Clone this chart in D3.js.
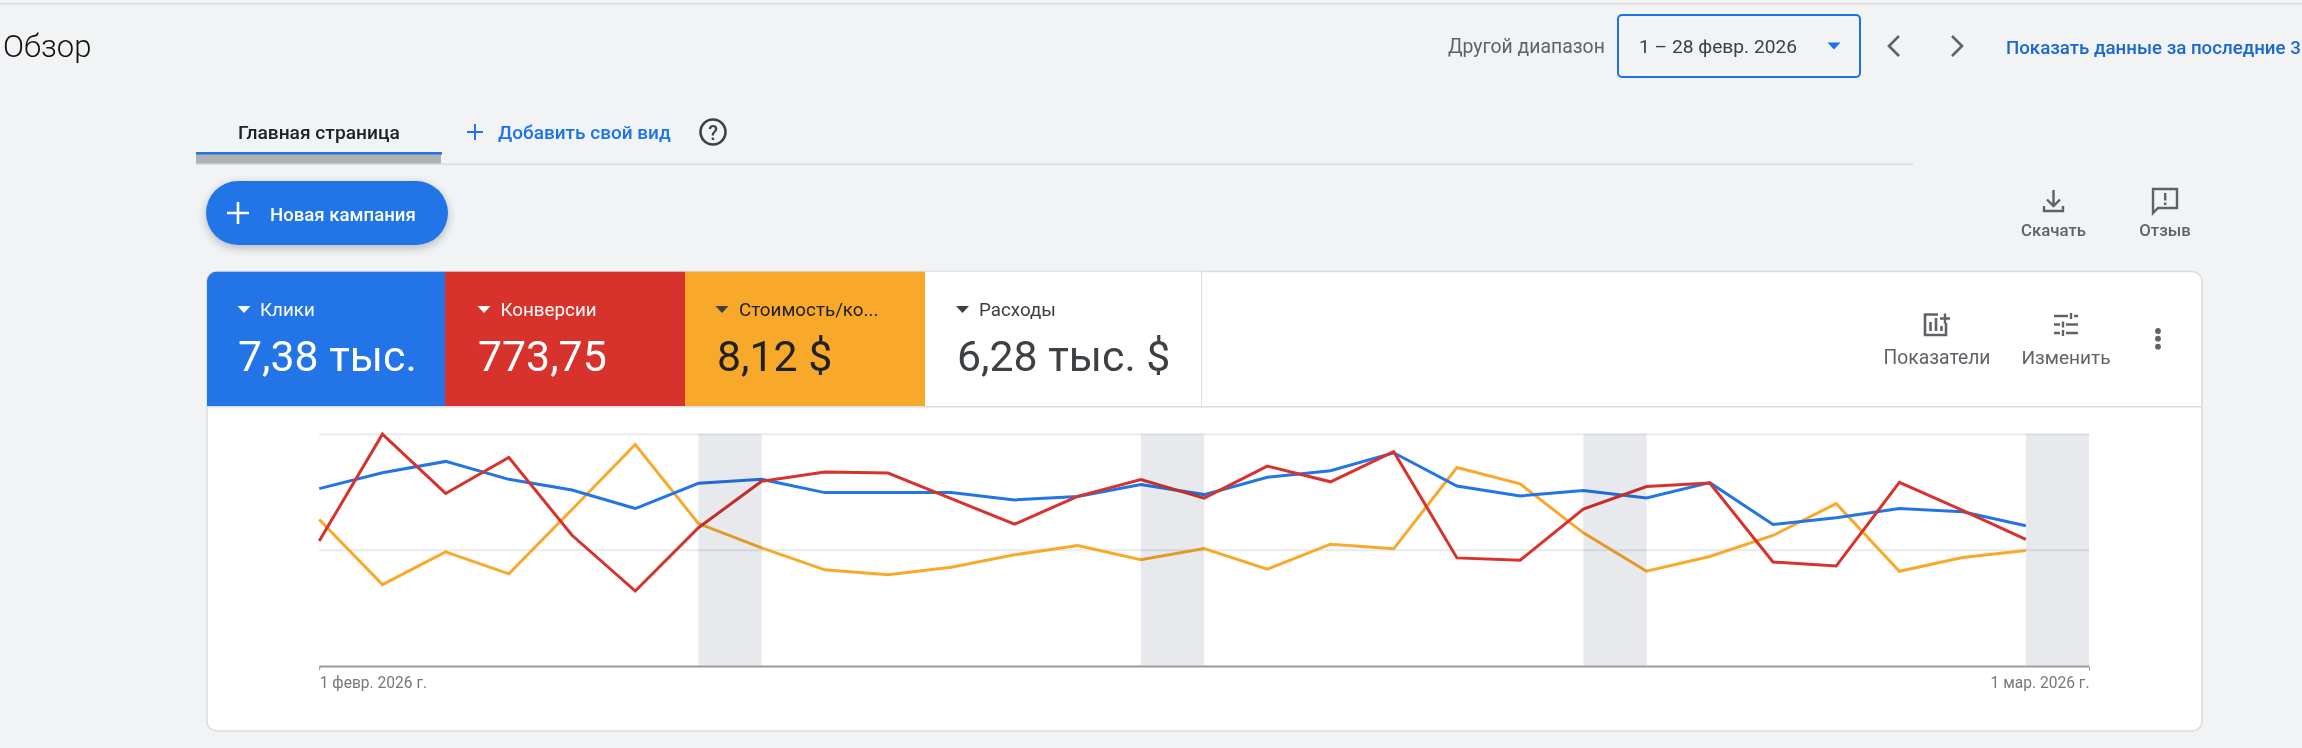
<!DOCTYPE html>
<html lang="ru">
<head>
<meta charset="utf-8">
<title>Обзор</title>
<script src="https://cdn.jsdelivr.net/npm/d3@7"></script>
<style>
  html, body { margin: 0; padding: 0; background: #f1f3f5; overflow: hidden; }
  svg { display: block; font-family: Roboto, "Noto Sans", sans-serif; }
</style>
</head>
<body>
<svg id="page" width="2302" height="748"></svg>
<script>
// Daily values, 1-28 Feb 2026
const clicks = [268, 292, 309, 282, 266, 238, 276, 282, 262, 262, 262, 251, 256, 274,
  259, 285, 295, 322, 272, 257, 265, 254, 277, 214, 224, 238, 233, 212];
const conversions = [21.6, 40.0, 29.8, 36.0, 22.6, 13.0, 23.9, 31.9, 33.5, 33.3, 28.9, 24.5, 29.3, 32.2,
  29.0, 34.5, 31.8, 37.0, 18.7, 18.3, 27.1, 31.0, 31.6, 18.0, 17.3, 31.7, 26.9, 21.9];
const costPerConv = [9.49, 5.29, 7.40, 5.98, 10.14, 14.33, 9.23, 7.66, 6.24, 5.92, 6.41, 7.21, 7.81, 6.89,
  7.62, 6.28, 7.90, 7.60, 12.85, 11.79, 8.63, 6.15, 7.10, 8.46, 10.52, 6.15, 7.04, 7.49];

// Each metric has its own hidden y axis
const clicksMax = 350, conversionsMax = 40, costMax = 15;
const gridTicks = [175, 350];

const weekendStarts = ["2026-02-07", "2026-02-14", "2026-02-21", "2026-02-28"];
const axisDates = ["2026-02-01", "2026-03-01"];
const axisLabels = ["1 февр. 2026 г.", "1 мар. 2026 г."];

const cardLabels = ["Клики", "Конверсии", "Стоимость/ко...", "Расходы"];
const cardValues = ["7,38 тыс.", "773,75", "8,12 $", "6,28 тыс. $"];

const BLUE = "#2374e6", RED = "#d7322c", ORANGE = "#f9a92a";
const GREY = "#5f6368", LINK = "#1a73e8";

const svg = d3.select("#page");

function label(parent, x, y, str, opts = {}) {
  return parent.append("text")
    .attr("x", x).attr("y", y)
    .attr("dy", opts.dy ?? "0.35em")
    .attr("text-anchor", opts.anchor || "start")
    .attr("font-size", opts.size || 18)
    .attr("font-weight", opts.weight || 400)
    .attr("font-family", opts.family || null)
    .attr("fill", opts.fill || "#202124")
    .text(str);
}

function triangle(parent, cx, cy, w, h, fill) {
  parent.append("path")
    .attr("d", `M${cx - w / 2},${cy - h / 2}h${w}l${-w / 2},${h}z`)
    .attr("fill", fill);
}

function plus(parent, cx, cy, r, color, sw) {
  parent.append("path")
    .attr("d", `M${cx - r},${cy}H${cx + r}M${cx},${cy - r}V${cy + r}`)
    .attr("stroke", color).attr("stroke-width", sw).attr("fill", "none");
}

// Page chrome
svg.append("rect").attr("width", 2302).attr("height", 748).attr("fill", "#f1f3f5");
svg.append("rect").attr("y", 3).attr("width", 2302).attr("height", 1.5).attr("fill", "#dadce0");

const defs = svg.append("defs");
const shadow = defs.append("filter").attr("id", "btnShadow")
  .attr("x", "-20%").attr("y", "-30%").attr("width", "140%").attr("height", "170%");
shadow.append("feDropShadow").attr("dx", 0).attr("dy", 3).attr("stdDeviation", 5)
  .attr("flood-color", "#000").attr("flood-opacity", 0.25);

label(svg, 3, 46, "Обзор", { size: 31, weight: 300, fill: "#111" });

// Date range controls
label(svg, 1448, 46, "Другой диапазон", { size: 19.4, fill: GREY });
svg.append("rect").attr("x", 1618).attr("y", 15).attr("width", 242).attr("height", 62).attr("rx", 4)
  .attr("fill", "none").attr("stroke", LINK).attr("stroke-width", 2);
label(svg, 1639, 46, "1 – 28 февр. 2026", { size: 19.2, fill: "#3c4043" });
triangle(svg, 1834, 46, 13, 7, LINK);
svg.append("path").attr("d", "M1899,36L1889,46L1899,56")
  .attr("fill", "none").attr("stroke", GREY).attr("stroke-width", 2.6);
svg.append("path").attr("d", "M1952,36L1962,46L1952,56")
  .attr("fill", "none").attr("stroke", GREY).attr("stroke-width", 2.6);
label(svg, 2006, 47, "Показать данные за последние 3", { size: 18.7, weight: 500, fill: "#1967d2" });

// Tabs
label(svg, 238, 132, "Главная страница", { size: 19.2, weight: 500 });
svg.append("rect").attr("x", 196).attr("y", 154).attr("width", 245).attr("height", 10).attr("fill", "#b0b1b3");
svg.append("rect").attr("x", 196).attr("y", 152).attr("width", 246).attr("height", 2.5).attr("fill", BLUE);
svg.append("rect").attr("x", 196).attr("y", 163.5).attr("width", 1717).attr("height", 1.5).attr("fill", "#dadce0");
plus(svg, 475, 132, 8, BLUE, 2);
label(svg, 498, 132, "Добавить свой вид", { size: 19, weight: 500, fill: LINK });
svg.append("circle").attr("cx", 713).attr("cy", 132).attr("r", 12.5)
  .attr("fill", "none").attr("stroke", "#3c4043").attr("stroke-width", 2.6);
label(svg, 713, 132.5, "?", { size: 20, weight: 500, anchor: "middle", fill: "#3c4043" });

// New campaign button
svg.append("rect").attr("x", 206).attr("y", 181).attr("width", 242).attr("height", 64).attr("rx", 32)
  .attr("fill", BLUE).attr("filter", "url(#btnShadow)");
plus(svg, 238, 213, 11, "#fff", 2.6);
label(svg, 270, 214, "Новая кампания", { size: 18.6, weight: 500, fill: "#fff" });

// Download / feedback
const toolbar = svg.append("g");
toolbar.append("path")
  .attr("d", "M2053.5,190V206M2047,199.5L2053.5,206L2060,199.5M2044,206V211H2063V206")
  .attr("fill", "none").attr("stroke", GREY).attr("stroke-width", 2.4);
label(toolbar, 2053.5, 230, "Скачать", { size: 16.8, weight: 500, anchor: "middle", fill: GREY });
toolbar.append("path")
  .attr("d", "M2153,189H2177V208H2158L2153,213Z")
  .attr("fill", "none").attr("stroke", GREY).attr("stroke-width", 2.4);
toolbar.append("rect").attr("x", 2164).attr("y", 193).attr("width", 2.4).attr("height", 7.5).attr("fill", GREY);
toolbar.append("rect").attr("x", 2164).attr("y", 202.5).attr("width", 2.4).attr("height", 2.6).attr("fill", GREY);
label(toolbar, 2165, 230, "Отзыв", { size: 16.8, weight: 500, anchor: "middle", fill: GREY });

// Card
const cardX = 207, cardY = 271.5, cardW = 1995, cardH = 459.5, tileH = 134.5;
svg.append("rect").attr("x", cardX).attr("y", cardY).attr("width", cardW).attr("height", cardH).attr("rx", 10)
  .attr("fill", "#fff").attr("stroke", "#dadce0").attr("stroke-width", 1.5);

const tileX = [207, 445, 685, 925, 1201];
const tileFill = [BLUE, RED, ORANGE, "#fff"];
const tileText = ["#fff", "#fff", "#202124", "#3c4043"];
const tileTitleX = [260, 500.5, 739, 979];
const tileTriX = [244, 484, 722, 962.5];
const tileValueX = [238, 478, 717, 957];

const clip = defs.append("clipPath").attr("id", "cardClip");
clip.append("rect").attr("x", cardX).attr("y", cardY).attr("width", cardW).attr("height", cardH).attr("rx", 10);

const tiles = svg.append("g").attr("clip-path", "url(#cardClip)");
cardLabels.forEach((name, i) => {
  tiles.append("rect").attr("x", tileX[i]).attr("y", cardY)
    .attr("width", tileX[i + 1] - tileX[i]).attr("height", tileH).attr("fill", tileFill[i]);
  triangle(tiles, tileTriX[i], 309.5, 13, 7, tileText[i] === "#fff" ? "#fff" : "#3c4043");
  label(tiles, tileTitleX[i], 309.5, name, { size: 18.8, fill: tileText[i] });
  label(tiles, tileValueX[i], 371, cardValues[i], { size: 42.8, dy: 0, fill: tileText[i] });
});
svg.append("rect").attr("x", 207).attr("y", 406).attr("width", 1995).attr("height", 1.5).attr("fill", "#dadce0");
svg.append("rect").attr("x", 1201).attr("y", 272).attr("width", 1).attr("height", 134).attr("fill", "#dadce0");

// Card toolbar icons
const tools = svg.append("g");
tools.append("path")
  .attr("d", "M1938,314.5H1925V335H1946V323")
  .attr("fill", "none").attr("stroke", GREY).attr("stroke-width", 2.6);
tools.append("path")
  .attr("d", "M1930.5,322V331M1936,318V331M1941.5,326V331")
  .attr("fill", "none").attr("stroke", GREY).attr("stroke-width", 2.6);
plus(tools, 1945, 318.5, 5, GREY, 2.4);
label(tools, 1937, 357.5, "Показатели", { size: 19.3, anchor: "middle", fill: GREY });
tools.append("path")
  .attr("d", "M2054,316H2068M2074,316H2078M2071,313V319M2054,324.5H2060M2066,324.5H2078M2063,321.5V327.5M2054,333H2060M2066,333H2078M2063,330V336")
  .attr("fill", "none").attr("stroke", GREY).attr("stroke-width", 2.4);
label(tools, 2066, 357.5, "Изменить", { size: 19.1, anchor: "middle", fill: GREY });
[331, 338.7, 346.7].forEach(cy => {
  tools.append("circle").attr("cx", 2158).attr("cy", cy).attr("r", 2.9).attr("fill", GREY);
});

// Chart
const parseDay = d3.utcParse("%Y-%m-%d");
const days = d3.utcDays(parseDay("2026-02-01"), parseDay("2026-03-01"));

const x = d3.scaleUtc()
  .domain([parseDay("2026-02-01"), parseDay("2026-03-01")])
  .range([319.2, 2089]);
const plotTop = 434.2, plotBottom = 666.5;
const yClicks = d3.scaleLinear().domain([0, clicksMax]).range([plotBottom, plotTop]);
const yConversions = d3.scaleLinear().domain([0, conversionsMax]).range([plotBottom, plotTop]);
const yCost = d3.scaleLinear().domain([0, costMax]).range([plotBottom, plotTop]);

const chart = svg.append("g");

chart.append("g").selectAll("line")
  .data(gridTicks).join("line")
  .attr("x1", x.range()[0]).attr("x2", x.range()[1])
  .attr("y1", d => yClicks(d)).attr("y2", d => yClicks(d))
  .attr("stroke", "#e8eaed").attr("stroke-width", 2);

const series = [
  { values: clicks, y: yClicks, color: BLUE },
  { values: conversions, y: yConversions, color: RED },
  { values: costPerConv, y: yCost, color: ORANGE }
];
// Orange and blue go first, red stays on top
[series[2], series[0], series[1]].forEach(s => {
  const line = d3.line().x((d, i) => x(days[i])).y(d => s.y(d));
  chart.append("path").datum(s.values)
    .attr("d", line)
    .attr("fill", "none")
    .attr("stroke", s.color)
    .attr("stroke-width", 3)
    .attr("stroke-linejoin", "miter");
});

// Weekend bands sit over the lines, slightly translucent
chart.append("g").selectAll("rect")
  .data(weekendStarts).join("rect")
  .attr("x", d => x(parseDay(d)))
  .attr("width", d => x(d3.utcDay.offset(parseDay(d), 1)) - x(parseDay(d)))
  .attr("y", plotTop)
  .attr("height", plotBottom - plotTop - 1)
  .attr("fill", "#dfe1e6")
  .attr("fill-opacity", 0.72)
  .style("mix-blend-mode", "multiply");

const axis = d3.axisBottom(x)
  .tickValues(axisDates.map(parseDay))
  .tickFormat((d, i) => axisLabels[i])
  .tickSize(4)
  .tickPadding(6);

const axisG = chart.append("g")
  .attr("transform", `translate(0,${plotBottom})`)
  .call(axis);
axisG.select(".domain").attr("stroke", "#9a9a9a").attr("stroke-width", 2).attr("d", `M${x.range()[0]},0H${x.range()[1]}`);
axisG.selectAll(".tick line").attr("stroke", "#9a9a9a").attr("stroke-width", 1);
axisG.selectAll(".tick text")
  .attr("font-size", 15.6)
  .attr("font-family", "Roboto")
  .attr("fill", "#777")
  .attr("text-anchor", (d, i) => i === 0 ? "start" : "end");
</script>
</body>
</html>
